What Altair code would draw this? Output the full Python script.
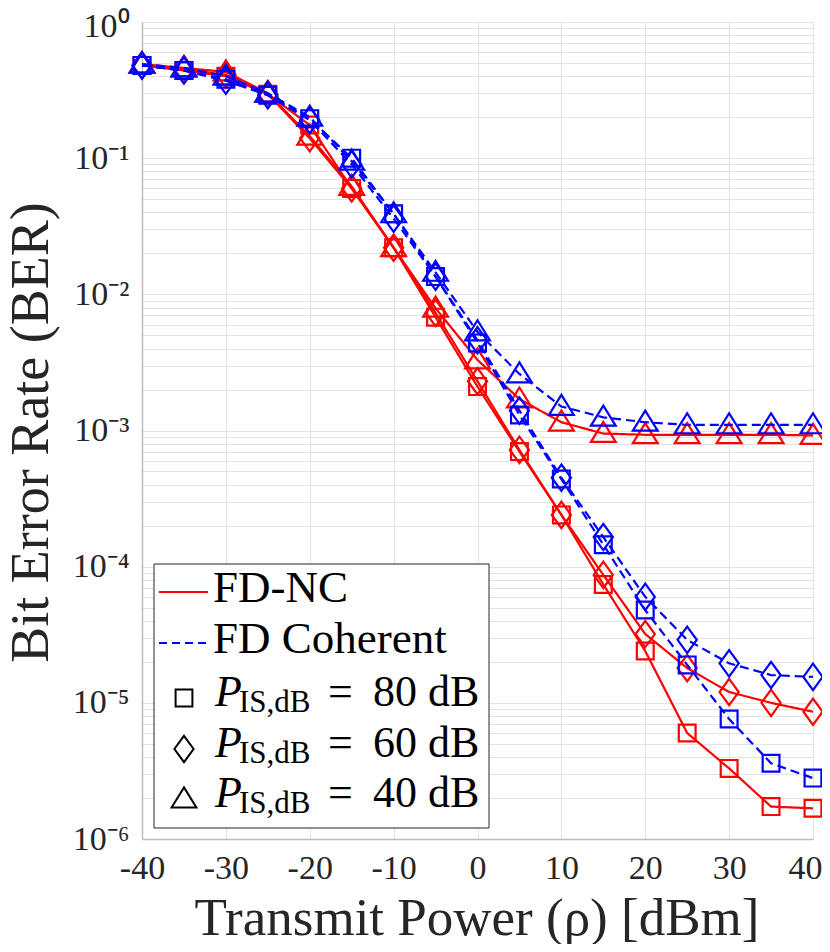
import altair as alt
import pandas as pd

# ---------------- data ----------------
x_vals = [-40, -35, -30, -25, -20, -15, -10, -5, 0, 5, 10, 15, 20, 25, 30, 35, 40]

nc_80 = [0.48, 0.44, 0.40, 0.295, 0.175, 0.060, 0.022, 0.0068, 0.0021, 0.00070,
         0.00024, 7.4e-5, 2.4e-5, 6.0e-6, 3.3e-6, 1.73e-6, 1.68e-6]
nc_60 = [0.48, 0.45, 0.41, 0.295, 0.140, 0.060, 0.022, 0.0073, 0.0023, 0.00072,
         0.00024, 8.7e-5, 3.2e-5, 1.8e-5, 1.2e-5, 1.0e-5, 8.6e-6]
nc_40 = [0.49, 0.46, 0.43, 0.300, 0.145, 0.062, 0.022, 0.0079, 0.0033, 0.0017,
         0.00115, 0.00095, 0.00093, 0.00093, 0.00093, 0.00093, 0.00092]
coh_80 = [0.48, 0.44, 0.38, 0.290, 0.195, 0.100, 0.039, 0.0135, 0.0044, 0.0013,
          0.00044, 0.000145, 4.8e-5, 1.9e-5, 7.6e-6, 3.6e-6, 2.8e-6]
coh_60 = [0.48, 0.44, 0.37, 0.290, 0.190, 0.090, 0.036, 0.0135, 0.0046, 0.0014,
          0.00045, 0.000165, 6.0e-5, 2.9e-5, 1.95e-5, 1.6e-5, 1.55e-5]
coh_40 = [0.49, 0.46, 0.40, 0.300, 0.200, 0.095, 0.039, 0.0145, 0.0053, 0.0026,
          0.0015, 0.00125, 0.00115, 0.0011, 0.0011, 0.0011, 0.0011]

schemes = ["FD-NC", "FD Coherent"]
pis_levels = ["80", "60", "40"]

x_ticks = [-40, -30, -20, -10, 0, 10, 20, 30, 40]
y_ticks = [m * 10.0 ** k for k in range(-6, 0) for m in range(1, 10)] + [1.0]
y_tick_labels = ["10⁰", "10⁻¹", "10⁻²", "10⁻³", "10⁻⁴", "10⁻⁵", "10⁻⁶"]

series = [
    ("FD-NC", "80", nc_80), ("FD-NC", "60", nc_60), ("FD-NC", "40", nc_40),
    ("FD Coherent", "80", coh_80), ("FD Coherent", "60", coh_60), ("FD Coherent", "40", coh_40),
]
rows = []
for sch, pis, vals in series:
    for xv, yv in zip(x_vals, vals):
        rows.append({"x": xv, "ber": yv, "scheme": sch, "pis": pis, "series": sch + pis})
df = pd.DataFrame(rows)

# ---------------- styles ----------------
FONT = "Liberation Serif"
TXT = "#262626"
GRID = "#e3e3e3"
RED = "#ff0000"
BLUE = "#0000ff"
SQ = "M-1.05,-1.05L1.05,-1.05L1.05,1.05L-1.05,1.05Z"
DI = "M0,-1.65L1.2,0L0,1.65L-1.2,0Z"
TR = "M0,-1.45L1.55,1.05L-1.55,1.05Z"
W, H = 671, 817

label_expr = ("abs(log(datum.value)/LN10 - round(log(datum.value)/LN10)) < 0.01 ? "
              + str(y_tick_labels).replace('"', "'")
              + "[-round(log(datum.value)/LN10)] : ''")

x_enc = alt.X(
    "x:Q",
    scale=alt.Scale(domain=[-40, 40], nice=False, zero=False),
    axis=alt.Axis(
        values=x_ticks, labelExpr="'' + datum.value", grid=True, gridColor=GRID,
        ticks=False, tickSize=0, domainColor="#bdbdbd", domainWidth=1.5,
        labelFont=FONT, labelFontSize=34, labelColor=TXT, labelPadding=12,
        labelFlush=False,
        labelOffset={"condition": {"test": "datum.value == 40", "value": -8}, "value": 0},
        title="Transmit Power (ρ) [dBm]", titleFont=FONT,
        titleFontSize=53, titleFontWeight="normal", titleColor=TXT,
        titleBaseline="alphabetic", titleY=95, titleX=W / 2 - 1,
    ),
)
y_enc = alt.Y(
    "ber:Q",
    scale=alt.Scale(type="log", domain=[1e-6, 1], nice=False),
    axis=alt.Axis(
        values=y_ticks, labelExpr=label_expr, labelOverlap=False, grid=True,
        gridColor=GRID, ticks=False, tickSize=0, domainColor="#bdbdbd",
        domainWidth=1.5, labelFont=FONT, labelFontSize=34, labelColor=TXT,
        labelPadding=13,
        labelOffset={"condition": {"test": "datum.value == 1", "value": 4}, "value": 0},
        title="Bit Error Rate (BER)", titleFont=FONT,
        titleFontSize=54, titleFontWeight="normal", titleColor=TXT,
        titleBaseline="alphabetic", titleAngle=270, titleX=-95, titleY=410,
    ),
)
color_enc = alt.Color("scheme:N", scale=alt.Scale(domain=schemes, range=[RED, BLUE]), legend=None)
dash_enc = alt.StrokeDash("scheme:N", scale=alt.Scale(domain=schemes, range=[[1, 0], [9, 5]]), legend=None)
shape_enc = alt.Shape("pis:N", scale=alt.Scale(domain=pis_levels, range=[SQ, DI, TR]), legend=None)

base = alt.Chart(df)
layers = []
for sch in schemes:
    sub = base.transform_filter(alt.datum.scheme == sch)
    layers.append(sub.mark_line(strokeWidth=2.2).encode(
        x=x_enc, y=y_enc, color=color_enc, strokeDash=dash_enc, detail="series:N", order="x:Q"))
    layers.append(sub.mark_point(filled=False, strokeWidth=2.2, size=256, opacity=1).encode(
        x=x_enc, y=y_enc, color=color_enc, shape=shape_enc))

# ---------------- custom legend (layout constants in plot pixels) ----------------
one = pd.DataFrame({"k": [0]})
leg = alt.Chart(one)
LX0, LX1, LY0, LY1 = 12, 347, 542, 806
layers.append(leg.mark_rect(fill="white", stroke="#262626", strokeWidth=1).encode(
    x=alt.value(LX0), x2=alt.value(LX1), y=alt.value(LY0), y2=alt.value(LY1)))

line_rows = [("FD-NC", RED, [1, 0], 570), ("FD Coherent", BLUE, [8, 5], 621)]
for name, col, dash, yy in line_rows:
    layers.append(leg.mark_rule(color=col, strokeWidth=2.2, strokeDash=dash).encode(
        x=alt.value(17), x2=alt.value(66), y=alt.value(yy)))
    layers.append(leg.mark_text(align="left", baseline="alphabetic", font=FONT, fontSize=45,
                                color="black").encode(
        x=alt.value(71), y=alt.value(yy + 10), text=alt.value(name)))

sym_rows = [(SQ, "80", 676), (DI, "60", 727), (TR, "40", 777)]
for shp, lev, yy in sym_rows:
    layers.append(leg.mark_point(filled=False, color="black", strokeWidth=2, size=256,
                                 shape=shp, opacity=1).encode(
        x=alt.value(42), y=alt.value(yy)))
    layers.append(leg.mark_text(align="left", baseline="alphabetic", font=FONT, fontSize=44,
                                fontStyle="italic", color="black").encode(
        x=alt.value(73), y=alt.value(yy + 8), text=alt.value("P")))
    layers.append(leg.mark_text(align="left", baseline="alphabetic", font=FONT, fontSize=31,
                                color="black").encode(
        x=alt.value(97), y=alt.value(yy + 14), text=alt.value("IS,dB")))
    layers.append(leg.mark_text(align="left", baseline="alphabetic", font=FONT, fontSize=44,
                                color="black").encode(
        x=alt.value(186), y=alt.value(yy + 8), text=alt.value("=")))
    layers.append(leg.mark_text(align="left", baseline="alphabetic", font=FONT, fontSize=44,
                                color="black").encode(
        x=alt.value(231), y=alt.value(yy + 8), text=alt.value(lev + " dB")))

chart = alt.layer(*layers).properties(
    width=W, height=H,
    autosize=alt.AutoSizeParams(type="none"),
    padding={"left": 134, "top": 14, "right": 9, "bottom": 105},
    background="white",
).configure_view(strokeWidth=0)

chart.save("out.html", embed_options={"renderer": "svg", "actions": False})
